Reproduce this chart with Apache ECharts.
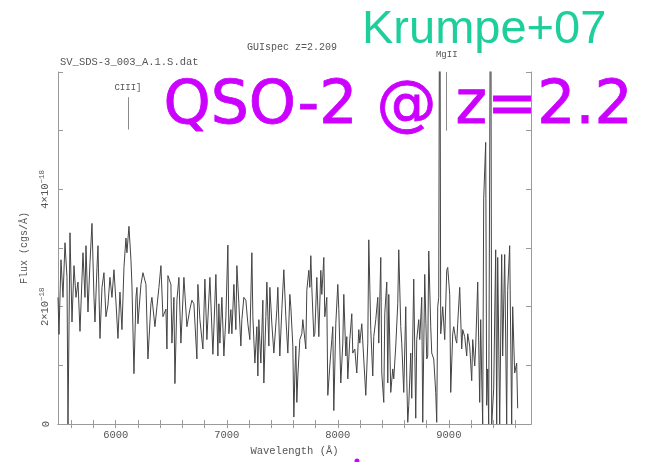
<!DOCTYPE html>
<html>
<head>
<meta charset="utf-8">
<script src="https://cdn.jsdelivr.net/npm/echarts@6/dist/echarts.min.js"></script>
<style>
  html, body { margin: 0; padding: 0; background: #fff; }
  #main { width: 650px; height: 462px; }
</style>
</head>
<body>
<div id="main"></div>
<script>
// spectrum: wavelength (Angstrom) and flux (1e-18 cgs/A)
var wave = [5480, 5489, 5507, 5525, 5543, 5561, 5570, 5579, 5588, 5606, 5624, 5642, 5660, 5678, 5705, 5723, 5732, 5750, 5768, 5786,
  5804, 5813, 5831, 5840, 5858, 5876, 5894, 5912, 5930, 5948, 5966, 5984, 6002, 6020, 6038, 6056, 6074, 6092, 6101, 6119,
  6137, 6146, 6164, 6182, 6191, 6200, 6227, 6245, 6272, 6290, 6317, 6326, 6353, 6371, 6389, 6407, 6425, 6452, 6461, 6470,
  6497, 6506, 6524, 6533, 6551, 6569, 6587, 6614, 6641, 6668, 6686, 6704, 6731, 6740, 6758, 6785, 6803, 6821, 6848, 6875,
  6902, 6920, 6929, 6938, 6956, 6974, 6992, 7010, 7019, 7037, 7046, 7064, 7082, 7091, 7109, 7127, 7136, 7154, 7172, 7190,
  7208, 7226, 7235, 7253, 7271, 7280, 7289, 7307, 7325, 7334, 7352, 7361, 7379, 7388, 7406, 7424, 7451, 7460, 7478, 7496,
  7514, 7532, 7550, 7568, 7577, 7595, 7604, 7613, 7622, 7631, 7640, 7658, 7676, 7685, 7712, 7721, 7739, 7748, 7757, 7766,
  7784, 7793, 7811, 7829, 7847, 7856, 7874, 7883, 7901, 7910, 7928, 7946, 7955, 7964, 7982, 8000, 8009, 8027, 8045, 8054,
  8072, 8081, 8090, 8108, 8126, 8135, 8153, 8171, 8189, 8198, 8216, 8234, 8252, 8270, 8279, 8297, 8315, 8324, 8342, 8360,
  8369, 8387, 8396, 8414, 8423, 8441, 8450, 8459, 8477, 8495, 8504, 8522, 8540, 8549, 8567, 8576, 8594, 8612, 8621, 8630,
  8639, 8657, 8666, 8684, 8702, 8711, 8729, 8738, 8756, 8765, 8783, 8801, 8810, 8819, 8837, 8846, 8864, 8882, 8891, 8900,
  8909, 8918, 8927, 8945, 8963, 8981, 8990, 9008, 9017, 9035, 9044, 9062, 9071, 9080, 9098, 9116, 9125, 9143, 9161, 9170,
  9188, 9206, 9215, 9233, 9242, 9260, 9278, 9287, 9296, 9305, 9314, 9332, 9341, 9350, 9359, 9377, 9386, 9404, 9422, 9431,
  9440, 9458, 9476, 9485, 9503, 9521, 9530, 9548, 9566, 9575, 9593, 9611, 9620];
var flux = [2.16, 1.53, 2.80, 2.16, 3.09, 2.50, 0, 0, 3.26, 1.74, 2.70, 2.16, 2.42, 1.58, 2.92, 2.16, 3.04, 1.91, 2.75, 3.42,
  2.16, 1.74, 2.67, 3.04, 1.46, 2.33, 2.58, 1.83, 2.03, 2.50, 2.16, 2.63, 2.08, 1.46, 2.25, 1.61, 2.67, 3.17, 2.92, 3.37,
  2.80, 2.37, 0.86, 2.16, 2.33, 1.71, 2.38, 2.58, 2.38, 1.11, 2.05, 2.16, 1.66, 2.00, 2.33, 2.70, 1.83, 1.96, 1.28, 2.53,
  2.38, 1.38, 2.16, 0.69, 2.11, 2.50, 1.38, 2.50, 1.66, 1.96, 2.11, 2.05, 1.11, 2.38, 1.78, 1.28, 2.47, 1.44, 2.50, 1.19,
  2.55, 1.16, 2.05, 1.38, 2.16, 1.16, 1.83, 3.05, 1.54, 1.95, 1.54, 2.38, 1.61, 2.70, 2.05, 1.33, 1.78, 2.16, 2.11, 1.71,
  1.44, 2.92, 1.83, 1.04, 1.66, 0.82, 1.78, 1.04, 2.11, 0.70, 1.83, 2.42, 1.33, 2.33, 1.71, 1.21, 1.95, 2.33, 1.16, 1.95,
  2.63, 1.83, 1.21, 2.21, 2.00, 1.33, 0.12, 0.82, 1.33, 0.37, 0.82, 1.44, 1.54, 1.78, 1.28, 2.28, 2.62, 2.33, 2.87, 2.33,
  1.49, 1.54, 2.50, 1.49, 2.62, 2.21, 2.84, 1.83, 2.16, 0.49, 0.99, 1.44, 1.66, 0.23, 1.71, 2.38, 1.95, 0.70, 1.38, 2.21,
  1.16, 1.49, 0.77, 1.44, 1.88, 1.21, 1.28, 0.87, 1.61, 1.38, 1.71, 1.74, 0.49, 1.38, 3.14, 1.61, 0.82, 1.49, 1.78, 2.16,
  1.38, 2.84, 0.87, 0.37, 1.88, 2.42, 0.70, 2.21, 0.54, 0.94, 0.77, 1.33, 2.05, 2.97, 1.66, 1.38, 0.54, 2.00, 0.77, 0.03,
  0.32, 1.21, 0.44, 2.47, 0.10, 1.44, 1.78, 1.44, 2.16, 0.03, 2.55, 1.11, 1.16, 2.95, 1.66, 1.21, 1.11, 0.54, 0.03, 2.00,
  2.16, 9.00, 1.54, 2.00, 1.44, 2.62, 2.67, 2.21, 0.54, 1.54, 1.66, 1.44, 1.38, 1.71, 2.33, 1.28, 1.61, 1.49, 1.16, 1.54,
  1.33, 0.74, 1.44, 0.99, 1.33, 2.42, 0.37, 1.78, 0.82, 0, 3.84, 4.80, 0.32, 0.94, 0, 9.00, 0, 0.60, 2.97, 0,
  2.84, 0, 2.89, 1.16, 2.89, 0, 2.28, 3.04, 0, 2.00, 0.87, 1.04, 0.27];

// emission line markers
var lineNames = ["CIII]", "MgII"];
var lineWave = [6110, 8981];
var lineLow = [5.02, 5.0];
var lineHigh = [5.57, 6.0];

var xTicks = [5600, 5800, 6000, 6200, 6400, 6600, 6800, 7000, 7200, 7400, 7600, 7800, 8000, 8200, 8400, 8600, 8800, 9000, 9200, 9400, 9600];
var xLabels = [6000, 7000, 8000, 9000];
var yTicks = [0, 1, 2, 3, 4, 5, 6];
var yLabels = [0, 2, 4];

var spec = wave.map(function (w, i) { return [w, flux[i]]; });

var mono = '"Liberation Mono", monospace';
var frame = "#9a9a9a";

var myChart = echarts.init(document.getElementById("main"));

var option = {
  backgroundColor: "#fff",
  animation: false,
  grid: { left: 58, right: 119, top: 72, bottom: 33 },
  xAxis: [
    {
      type: "value",
      min: 5480,
      max: 9740,
      name: "Wavelength (Å)",
      nameLocation: "middle",
      nameGap: 19,
      nameTextStyle: { fontFamily: mono, fontSize: 10.5, color: "#555" },
      axisLine: { show: true, lineStyle: { color: frame, width: 1 } },
      axisTick: { show: true, inside: true, length: 4, customValues: xTicks, lineStyle: { color: frame } },
      axisLabel: {
        customValues: xLabels,
        margin: 6,
        fontFamily: mono,
        fontSize: 10.5,
        color: "#555",
        formatter: function (v) { return String(v); }
      },
      splitLine: { show: false }
    },
    {
      type: "value",
      position: "top",
      min: 5480,
      max: 9740,
      axisLine: { show: true, lineStyle: { color: frame, width: 1 } },
      axisTick: { show: true, inside: true, length: 4, customValues: xTicks, lineStyle: { color: frame } },
      axisLabel: { show: false },
      splitLine: { show: false }
    }
  ],
  yAxis: [
    {
      type: "value",
      min: 0,
      max: 6,
      name: "Flux (cgs/Å)",
      nameLocation: "middle",
      nameGap: 29,
      nameRotate: 90,
      nameTextStyle: { fontFamily: mono, fontSize: 10, color: "#555" },
      axisLine: { show: true, lineStyle: { color: frame, width: 1 } },
      axisTick: { show: true, inside: true, length: 5, customValues: yTicks, lineStyle: { color: frame } },
      axisLabel: {
        customValues: yLabels,
        rotate: 90,
        margin: 6,
        fontFamily: mono,
        fontSize: 10.5,
        color: "#555",
        formatter: function (v) {
          return v === 0 ? "0" : v + "×10{sup|−18}";
        },
        rich: { sup: { fontFamily: mono, fontSize: 7.5, color: "#555", padding: [0, 0, 6, 0] } }
      },
      splitLine: { show: false }
    },
    {
      type: "value",
      position: "right",
      min: 0,
      max: 6,
      axisLine: { show: true, lineStyle: { color: frame, width: 1 } },
      axisTick: { show: true, inside: true, length: 5, customValues: yTicks, lineStyle: { color: frame } },
      axisLabel: { show: false },
      splitLine: { show: false }
    }
  ],
  series: [
    {
      type: "line",
      data: spec,
      showSymbol: false,
      symbol: "none",
      clip: true,
      lineStyle: { color: "#444", width: 1 },
      silent: true
    },
    {
      type: "line",
      data: [],
      clip: false,
      silent: true,
      markLine: {
        symbol: "none",
        silent: true,
        lineStyle: { color: "#8a8a8a", width: 1, type: "solid" },
        label: { show: true, position: "end", fontFamily: mono, fontSize: 9, color: "#555" },
        data: lineNames.map(function (n, i) {
          return [
            { coord: [lineWave[i], lineLow[i]] },
            { coord: [lineWave[i], lineHigh[i]], name: n, label: { formatter: n, distance: i === 0 ? 5 : 13 } }
          ];
        })
      }
    }
  ],
  graphic: [
    { type: "text", left: 60, top: 57, style: { text: "SV_SDS-3_003_A.1.S.dat", font: "10.5px " + mono, fill: "#555" } },
    { type: "text", left: 247, top: 42, style: { text: "GUIspec z=2.209", font: "10px " + mono, fill: "#555" } },
    { type: "text", left: 362, top: 7, style: { text: "Krumpe+07", font: '47px "Liberation Sans"', fill: "#1fcf9b" } },
    {
      type: "text", left: 163, top: 77,
      style: { text: "QSO-2 @ z=2.2", font: '60px "DejaVu Sans"', fill: "#cc00ff", stroke: "#cc00ff", lineWidth: 0.8 }
    },
    { type: "circle", shape: { cx: 357, cy: 461, r: 2.5 }, style: { fill: "#cc00ff" } }
  ]
};

myChart.setOption(option);
</script>
</body>
</html>
